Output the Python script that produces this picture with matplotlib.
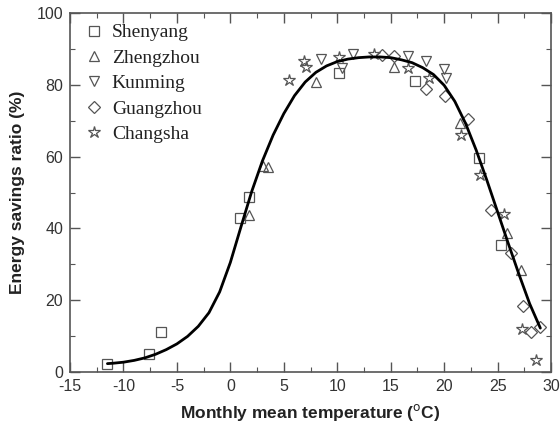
import matplotlib.pyplot as plt
from matplotlib.ticker import MultipleLocator

plt.rcParams["font.family"] = ["Liberation Sans", "DejaVu Sans"]
plt.rcParams["axes.unicode_minus"] = False

# Fitted curve
fit_x = [-11.5, -11, -10, -9, -8, -7, -6, -5, -4, -3, -2, -1, 0, 1, 2, 3, 4, 5, 6, 7,
         8, 9, 10, 11, 12, 13, 14, 15, 16, 17, 18, 19, 20, 21, 22, 23, 24, 25, 26, 27, 28, 29]
fit_y = [2.3, 2.4, 2.7, 3.2, 3.9, 4.9, 6.2, 7.8, 9.9, 12.7, 16.5, 22.3, 30.5, 40.5, 50.3,
         58.8, 66.0, 72.0, 77.0, 80.8, 83.5, 85.3, 86.5, 87.2, 87.6, 87.8, 87.8, 87.6, 87.0,
         86.2, 84.8, 82.9, 79.9, 75.4, 69.3, 61.8, 53.4, 44.6, 35.8, 27.2, 19.0, 12.2]

# Measured points per city
shenyang_x = [-11.5, -7.6, -6.5, 0.9, 1.7, 10.2, 17.3, 23.3, 25.3]
shenyang_y = [2.3, 4.9, 11.0, 43.0, 48.8, 83.3, 81.0, 59.5, 35.4]

zhengzhou_x = [1.7, 3.1, 3.55, 8.0, 15.3, 21.5, 25.9, 27.2]
zhengzhou_y = [43.7, 57.4, 57.2, 80.9, 85.0, 69.3, 38.6, 28.4]

kunming_x = [8.5, 10.4, 11.5, 16.6, 18.3, 20.0, 20.2]
kunming_y = [87.2, 84.6, 88.7, 88.1, 86.6, 84.4, 81.8]

guangzhou_x = [14.2, 15.3, 18.3, 20.1, 22.2, 24.4, 26.3, 27.4, 28.1, 29.0]
guangzhou_y = [88.4, 88.0, 79.0, 77.0, 70.5, 45.1, 33.2, 18.5, 11.0, 12.6]

changsha_x = [5.5, 6.9, 7.1, 10.2, 13.4, 16.6, 18.6, 21.6, 23.4, 25.6, 27.3, 28.6]
changsha_y = [81.3, 86.7, 85.0, 87.8, 88.5, 84.6, 82.0, 66.0, 54.9, 43.9, 12.0, 3.3]

fig = plt.figure(figsize=(5.6, 4.25), dpi=100)
ax = fig.add_axes([0.125, 0.125, 0.859, 0.844])

mk = dict(linestyle="none", markerfacecolor="none", markeredgecolor="#555555",
          markeredgewidth=0.9, markersize=7)
ax.plot(shenyang_x, shenyang_y, marker="s", label="Shenyang", **mk)
ax.plot(zhengzhou_x, zhengzhou_y, marker="^", label="Zhengzhou", **mk)
ax.plot(kunming_x, kunming_y, marker="v", label="Kunming", **mk)
ax.plot(guangzhou_x, guangzhou_y, marker="D", label="Guangzhou",
        **{**mk, "markersize": 6})
ax.plot(changsha_x, changsha_y, marker="*", label="Changsha",
        **{**mk, "markersize": 9})

ax.plot(fit_x, fit_y, color="black", linewidth=2, solid_joinstyle="round",
        solid_capstyle="round", zorder=3)

ax.set_xlim(-15, 30)
ax.set_ylim(0, 100)
ax.xaxis.set_major_locator(MultipleLocator(5))
ax.xaxis.set_minor_locator(MultipleLocator(2.5))
ax.yaxis.set_major_locator(MultipleLocator(20))
ax.yaxis.set_minor_locator(MultipleLocator(10))
ax.tick_params(which="both", direction="in", top=True, right=True,
               color="#555555", labelsize=11.5, labelcolor="#333333")
ax.tick_params(which="major", length=7, width=1)
ax.tick_params(which="minor", length=3.5, width=0.8)
ax.tick_params(axis="x", which="major", pad=5)
ax.tick_params(axis="y", which="major", pad=5)
for s in ax.spines.values():
    s.set_color("#555555")
    s.set_linewidth(1.2)

ax.set_xlabel("Monthly mean temperature ($^{\\rm o}$C)", fontsize=12.5,
              fontweight="bold", color="#222222", labelpad=6)
ax.set_ylabel("Energy savings ratio (%)", fontsize=12.5, fontweight="bold",
              color="#222222", labelpad=8)

leg = ax.legend(loc="upper left", frameon=False,
                prop={"family": "Liberation Serif", "size": 14},
                handletextpad=0.2, labelspacing=0.4, borderaxespad=0.25,
                handlelength=1.4, borderpad=0.3)
for t in leg.get_texts():
    t.set_color("#222222")

fig.savefig("out.png", dpi=100)
